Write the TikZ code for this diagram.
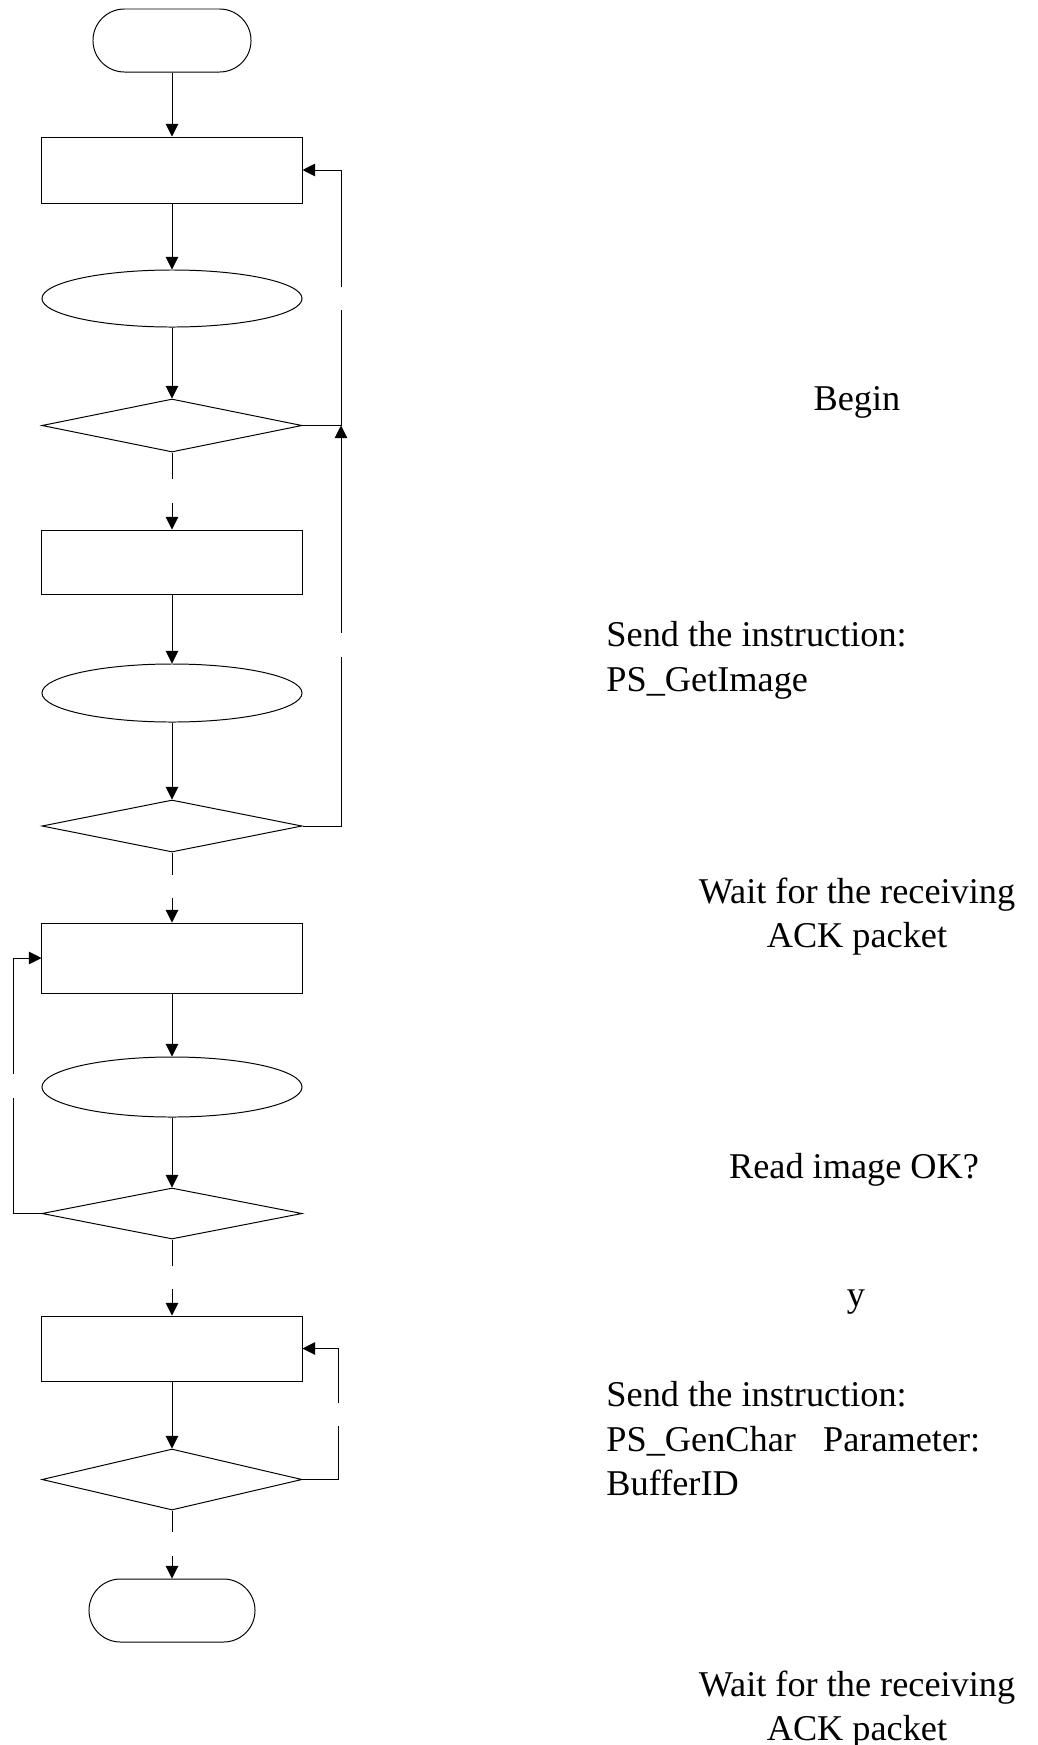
\documentclass[tikz,border=0pt]{standalone}
\usepackage{fontspec}
\setmainfont{Liberation Serif}
\usetikzlibrary{arrows.meta, shapes.geometric, shapes.misc, calc}

\tikzset{
  termbox/.style={draw, rounded rectangle, inner sep=0, minimum height=1.575cm},
  flowbox/.style={draw, rectangle, inner sep=0, minimum width=6.5cm},
  waitbox/.style={draw, ellipse, inner sep=0, minimum width=6.5cm},
  testbox/.style={draw, diamond, inner sep=0, minimum width=6.5cm},
  flow/.style={-{Triangle[length=9pt, width=9pt]}},
  note/.style={inner sep=0, font=\fontsize{25.8}{31.3}\selectfont}
}

\begin{document}
\begin{tikzpicture}[x=0.025cm, y=-0.025cm, line width=0.7pt]

%% Paramaters
%% column of the chart, loop lines and text column
\def\colX{172}
\def\loopR{341}
\def\loopRb{338}
\def\loopL{13}
\def\noteX{857}
\def\noteW{606}

\useasboundingbox (0,0) rectangle (1038,1745);

    %% chart nodes
    \node[termbox, minimum width=3.95cm] (start) at (\colX, 40.5) {};
    \node[flowbox, minimum height=1.65cm] (getimg) at (\colX, 170) {};
    \node[waitbox, minimum height=1.425cm] (ack1) at (\colX, 298.5) {};
    \node[testbox, minimum height=1.325cm] (imgok) at (\colX, 425.5) {};

    \node[flowbox, minimum height=1.6cm] (step2) at (\colX, 562) {};
    \node[waitbox, minimum height=1.45cm] (ack2) at (\colX, 693) {};
    \node[testbox, minimum height=1.3cm] (test2) at (\colX, 826) {};

    \node[flowbox, minimum height=1.75cm] (step3) at (\colX, 958) {};
    \node[waitbox, minimum height=1.5cm] (ack3) at (\colX, 1087) {};
    \node[testbox, minimum height=1.275cm] (test3) at (\colX, 1213.5) {};

    \node[flowbox, minimum height=1.625cm] (step4) at (\colX, 1348.5) {};
    \node[testbox, minimum height=1.525cm] (test4) at (\colX, 1479.5) {};
    \node[termbox, minimum width=4.15cm] (stop) at (\colX, 1610.5) {};

    %% gaps in the lines
    \coordinate (g1a) at (\colX, 479);  \coordinate (g1b) at (\colX, 503);
    \coordinate (g2a) at (\colX, 875);  \coordinate (g2b) at (\colX, 898);
    \coordinate (g3a) at (\colX, 1266); \coordinate (g3b) at (\colX, 1289);
    \coordinate (g4a) at (\colX, 1532); \coordinate (g4b) at (\colX, 1556);

    \coordinate (r1a) at (\loopR, 310);  \coordinate (r1b) at (\loopR, 287);
    \coordinate (r2a) at (\loopR, 657);  \coordinate (r2b) at (\loopR, 633);
    \coordinate (l3a) at (\loopL, 1098); \coordinate (l3b) at (\loopL, 1074);
    \coordinate (r4a) at (\loopRb, 1426); \coordinate (r4b) at (\loopRb, 1403);

    %% main line
    \draw[flow] (start) -- (getimg);
    \draw[flow] (getimg) -- (ack1);
    \draw[flow] (ack1) -- (imgok);
    \draw (imgok.south) -- (g1a);
    \draw[flow] (g1b) -- (step2);

    \draw[flow] (step2) -- (ack2);
    \draw[flow] (ack2) -- (test2);
    \draw (test2.south) -- (g2a);
    \draw[flow] (g2b) -- (step3);

    \draw[flow] (step3) -- (ack3);
    \draw[flow] (ack3) -- (test3);
    \draw (test3.south) -- (g3a);
    \draw[flow] (g3b) -- (step4);

    \draw[flow] (step4) -- (test4);
    \draw (test4.south) -- (g4a);
    \draw[flow] (g4b) -- (stop);

    %% loops back
    \draw (imgok.east) -| (r1a);
    \draw[flow] (r1b) |- (getimg.east);

    \draw (test2.east) -| (r2a);
    \draw[flow] (r2b) -- (imgok.east -| \loopR, 0);

    \draw (test3.west) -| (l3a);
    \draw[flow] (l3b) |- (step3.west);

    \draw (test4.east) -| (r4a);
    \draw[flow] (r4b) |- (step4.east);

    %% texts (base = last line)
    \node[note, anchor=base] (tbegin) at (\noteX, 410) {Begin};
    \node[note, anchor=base west, align=left] (tsend1) at (\noteW, 691)
        {Send the instruction:\\PS\_GetImage};
    \node[note, anchor=base, align=center] (twait1) at (\noteX, 947)
        {Wait for the receiving\\ACK packet};
    \node[note, anchor=base] (tread) at (854, 1178) {Read image OK?};
    \node[note, anchor=base] (ty) at (856, 1306) {y};
    \node[note, anchor=base west, align=left] (tsend2) at (\noteW, 1495)
        {Send the instruction:\\PS\_GenChar\ \ \ Parameter:\\BufferID};
    \node[note, anchor=base, align=center] (twait2) at (\noteX, 1740)
        {Wait for the receiving\\ACK packet};

\end{tikzpicture}
\end{document}
